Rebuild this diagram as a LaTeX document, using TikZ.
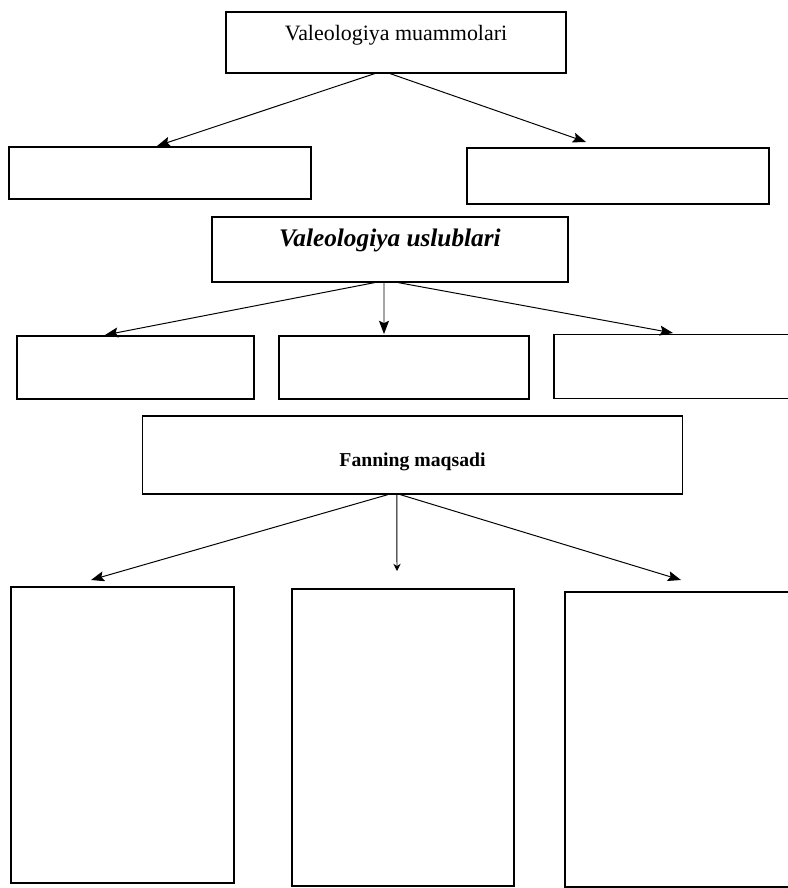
\documentclass[tikz,border=0pt]{standalone}
\usepackage{fontspec}
\setmainfont{Liberation Serif}
\usetikzlibrary{positioning, arrows.meta}

\begin{document}
\begin{tikzpicture}[> = {Stealth[length=3.3mm, width=2.5mm, inset=0.6mm]}, x = 0.025cm, y = -0.025cm, line width = 0.8pt]
                \tikzstyle{box}=[rectangle, draw, inner sep=0pt]
                \tikzstyle{seta}=[->, line width=0.7pt]
                \useasboundingbox (0,0) rectangle (788,888);

                    % Caixas
                    \node[box, minimum width=8.5cm, minimum height=1.525cm] (muamm) at (396,42.5) {};
                    \node[box, minimum width=7.55cm, minimum height=1.3cm] (muammL) at (160,173) {};
                    \node[box, minimum width=7.55cm, minimum height=1.4cm] (muammR) at (618,176) {};
                    \node[box, minimum width=8.9cm, minimum height=1.625cm] (uslub) at (390,249.5) {};
                    \node[box, minimum width=5.925cm, minimum height=1.575cm] (uslubA) at (135.5,367.5) {};
                    \node[box, minimum width=6.25cm, minimum height=1.575cm] (uslubB) at (404,367.5) {};
                    \node[box, minimum width=6.15cm, minimum height=1.6cm] (uslubC) at (677,366.5) {};
                    \node[box, minimum width=13.475cm, minimum height=1.95cm] (fan) at (412.5,455) {};
                    \node[box, minimum width=5.575cm, minimum height=7.4cm] (fanA) at (122.5,735) {};
                    \node[box, minimum width=5.55cm, minimum height=7.425cm] (fanB) at (403,737.5) {};
                    \node[box, minimum width=5.875cm, minimum height=7.375cm] (fanC) at (682.5,739.5) {};

                    % Textos
                    \node[inner sep=0pt, font=\fontsize{15.6}{18}\selectfont] (muammtxt) at (muamm.north) [below=.33cm] {Valeologiya muammolari};
                    \node[inner sep=0pt, font=\fontsize{18}{21}\selectfont\bfseries\itshape] (uslubtxt) at (uslub.north) [below=.3cm] {Valeologiya uslublari};
                    \node[inner sep=0pt, font=\fontsize{14}{17}\selectfont\bfseries] (fantxt) at (fan.north) [below=.92cm] {Fanning maqsadi};

                    % Pontas
                    \coordinate (pL) at (157,146);
                    \coordinate (pR) at (586,142);
                    \coordinate (pA) at (105,335);
                    \coordinate (pB) at (384,334);
                    \coordinate (pC) at (673,333);
                    \coordinate (qA) at (91,580);
                    \coordinate (qB) at (397,571);
                    \coordinate (qC) at (681,580);

                    % Setas
                    \draw[seta] ([xshift=-0.53cm]muamm.south) -- (pL);
                    \draw[seta] ([xshift=-0.15cm]muamm.south) -- (pR);
                    \draw[seta] ([xshift=-0.38cm]uslub.south) -- (pA);
                    \draw[seta] ([xshift=-0.15cm]uslub.south) -- (pB);
                    \draw[seta] ([xshift=0.2cm]uslub.south) -- (pC);
                    \draw[seta] ([xshift=-0.61cm]fan.south) -- (qA);
                    \draw[seta, -{Stealth[length=1.8mm, width=1.8mm]}] ([xshift=-0.39cm]fan.south) -- (qB);
                    \draw[seta] ([xshift=-0.31cm]fan.south) -- (qC);
\end{tikzpicture}
\end{document}
